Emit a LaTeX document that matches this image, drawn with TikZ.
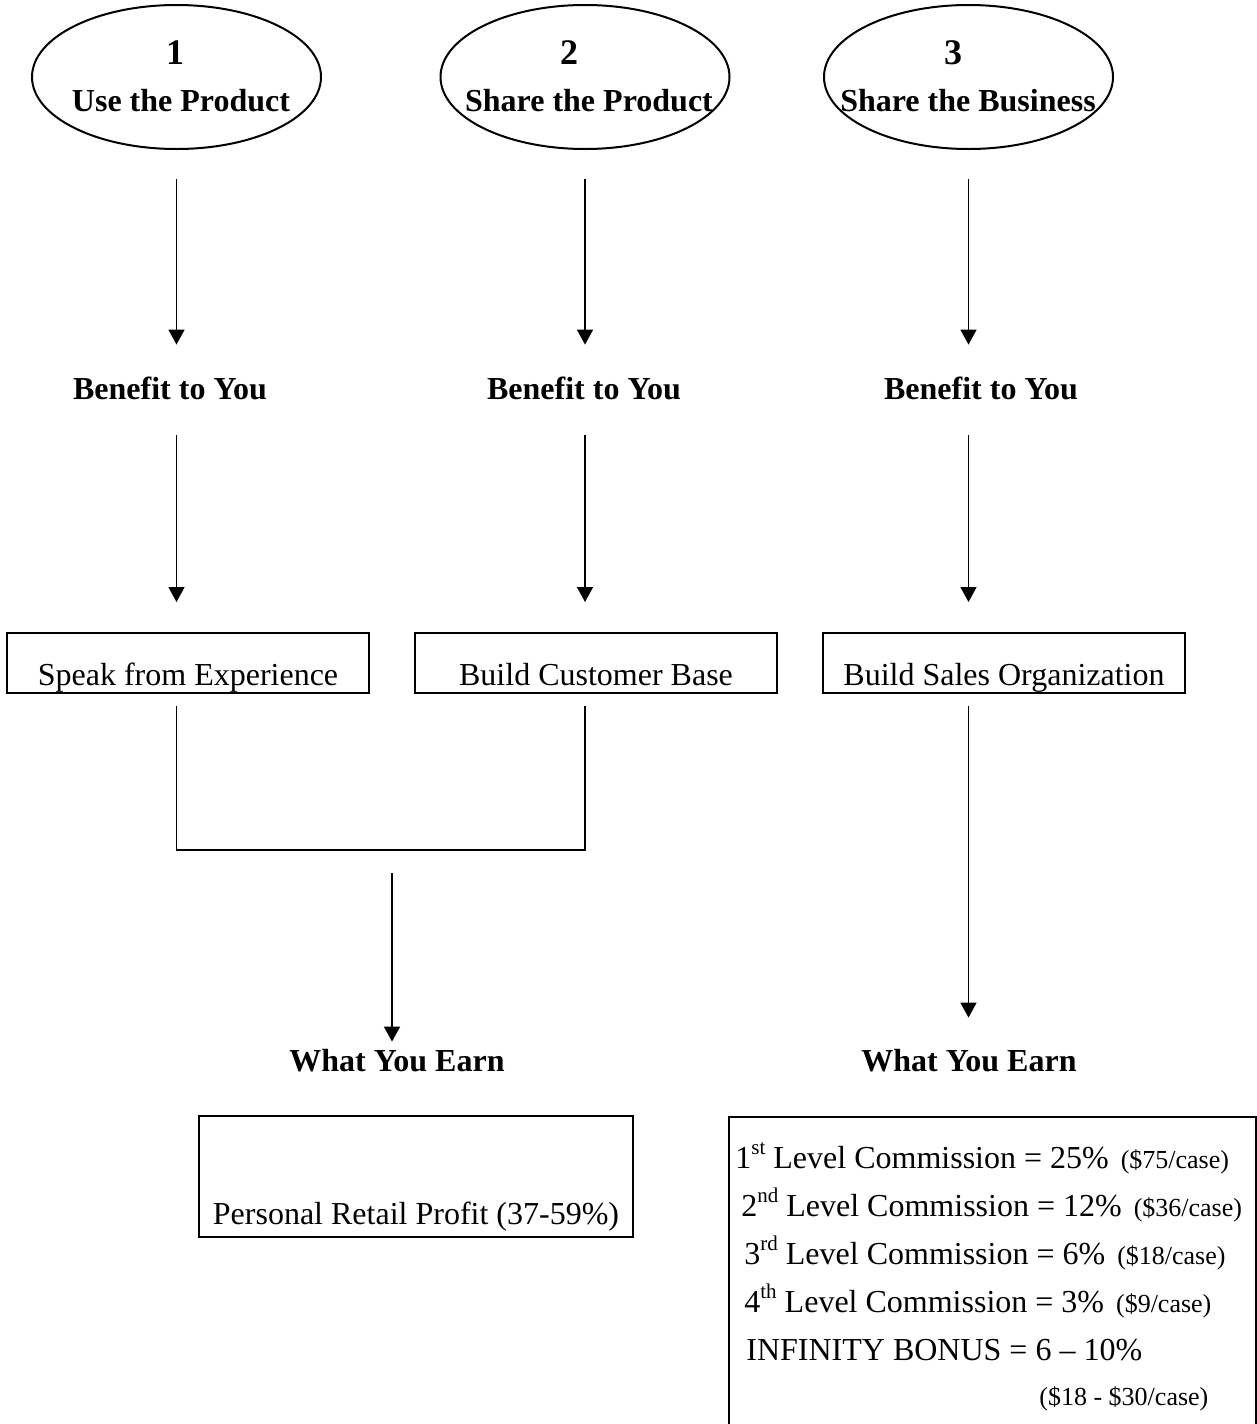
\documentclass[tikz,border=0pt]{standalone}
\usepackage{fontspec}
\setmainfont{Liberation Serif}
\usetikzlibrary{arrows.meta,shapes.geometric}
\newcommand\myord[1]{\raisebox{7pt}{\fontsize{10.5}{12}\selectfont #1}}
\newcommand\mysmall[1]{{\fontsize{13}{15}\selectfont #1}}
\begin{document}
\begin{tikzpicture}[x=0.5pt,y=-0.5pt,
  oval/.style={draw,ellipse,line width=1pt,minimum width=144.5pt,minimum height=72pt,inner sep=0pt},
  num/.style={inner sep=0pt,font=\fontsize{18}{20}\selectfont\bfseries,text height=12.5pt,text depth=0pt},
  head/.style={inner sep=0pt,font=\fontsize{16}{19}\selectfont\bfseries,text height=11pt,text depth=0pt},
  boxed/.style={draw,line width=1pt,minimum width=181pt,inner ysep=0pt,text height=26pt,text depth=4pt,font=\fontsize{16}{19}\selectfont},
  arr/.style={line width=0.75pt,-{Triangle[length=7.5pt,width=8pt]}},
  conn/.style={line width=0.75pt},
  cline/.style={inner sep=0pt,anchor=base west,font=\fontsize{16}{19}\selectfont}
]
\path[use as bounding box,clip] (0,0) rectangle (1257,1424);

% ellipses
\node[oval] (e1) at (176.5,77) {};
\node[num] (n1) at (175,52) {1};
\node[head] (t1) at (181,100) {Use the Product};
\node[oval] (e2) at (585,77) {};
\node[num] (n2) at (569,52) {2};
\node[head] (t2) at (589,100) {Share the Product};
\node[oval] (e3) at (968.5,77) {};
\node[num] (n3) at (953,52) {3};
\node[head] (t3) at (968,100) {Share the Business};

% benefit labels
\node[head] (b1) at (170,388) {Benefit to You};
\node[head] (b2) at (584,388) {Benefit to You};
\node[head] (b3) at (981,388) {Benefit to You};

% boxes
\node[boxed] (s1) at (188,663) {Speak from Experience};
\node[boxed] (s2) at (596,663) {Build Customer Base};
\node[boxed] (s3) at (1004,663) {Build Sales Organization};

% what you earn
\node[head] (w1) at (397,1060) {What You Earn};
\node[head] (w2) at (969,1060) {What You Earn};

% earnings boxes
\node[draw,line width=1pt,minimum width=217pt,inner ysep=0pt,text height=54pt,text depth=6.5pt,font=\fontsize{16}{19}\selectfont] (p) at (416,1176.5) {Personal Retail Profit (37-59\%)};
\node[draw,line width=1pt,anchor=north west,minimum width=263.5pt,minimum height=172pt,inner sep=0pt] (m) at (728,1116) {};
\node[cline] (c1) at (735,1168) {1\myord{st} Level Commission = 25\%\hspace{6pt}\mysmall{(\$75/case)}};
\node[cline] (c2) at (741,1216) {2\myord{nd} Level Commission = 12\%\hspace{6pt}\mysmall{(\$36/case)}};
\node[cline] (c3) at (744,1264) {3\myord{rd} Level Commission = 6\%\hspace{6pt}\mysmall{(\$18/case)}};
\node[cline] (c4) at (744,1312) {4\myord{th} Level Commission = 3\%\hspace{6pt}\mysmall{(\$9/case)}};
\node[cline] (c5) at (746,1360) {INFINITY BONUS = 6 \textendash{} 10\%};
\node[cline,font=\fontsize{13}{15}\selectfont] (c6) at (1039,1405) {(\$18 - \$30/case)};

% arrows
\draw[arr,shorten <=14.5pt,shorten >=16pt] (e1.south) -- (e1.south |- b1.north);
\draw[arr,shorten <=14.5pt,shorten >=16pt] (e2.south) -- (e2.south |- b2.north);
\draw[arr,shorten <=14.5pt,shorten >=16pt] (e3.south) -- (e3.south |- b3.north);
\draw[arr,shorten <=18pt,shorten >=15pt] (e1.south |- b1.south) -- (e1.south |- s1.north);
\draw[arr,shorten <=18pt,shorten >=15pt] (e2.south |- b2.south) -- (e2.south |- s2.north);
\draw[arr,shorten <=18pt,shorten >=15pt] (e3.south |- b3.south) -- (e3.south |- s3.north);

\coordinate (j) at (392,850);
\draw[conn,shorten <=6pt,shorten >=6pt] (e1.south |- s1.south) -- (e1.south |- j) -- (e2.south |- j) -- (e2.south |- s2.south);
\draw[arr,shorten <=11.5pt,shorten >=3.5pt] (j) -- (j |- w1.north);
\draw[arr,shorten <=6pt,shorten >=15.5pt] (e3.south |- s3.south) -- (e3.south |- w2.north);
\end{tikzpicture}
\end{document}
